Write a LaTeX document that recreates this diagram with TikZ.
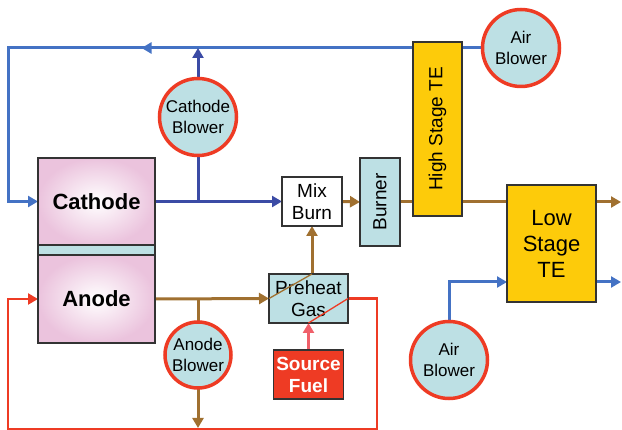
\documentclass[tikz,border=0pt]{standalone}
\usepackage{fontspec}
\setmainfont{Liberation Sans}
\usetikzlibrary{arrows.meta,decorations.markings,calc}
\definecolor{tealf}{HTML}{BDE0E4}
\definecolor{redc}{HTML}{EE3B24}
\definecolor{fuelc}{HTML}{EE3B24}
\definecolor{fuelarrow}{HTML}{F0606A}
\definecolor{yellowc}{HTML}{FDCB0A}
\definecolor{brownc}{HTML}{A07030}
\definecolor{bluel}{HTML}{4472C4}
\definecolor{blued}{HTML}{3B4BA5}
\definecolor{pinkc}{HTML}{EBC3DD}
\definecolor{boxc}{HTML}{333333}
\pgfdeclarelayer{bg}
\pgfsetlayers{bg,main}
\begin{document}
\begin{tikzpicture}[x=1pt,y=-1pt,
  box/.style={draw=boxc, line width=1.3pt, inner sep=0pt, outer sep=0pt, align=center, font=\fontsize{19}{22}\selectfont},
  blower/.style={circle, draw=redc, line width=3.5pt, fill=tealf, inner sep=0pt, outer sep=0pt, align=center, font=\fontsize{17}{21}\selectfont},
  tip/.style={-{Triangle[length=10pt,width=11pt]}},
  flow/.style={line width=3pt, tip},
  plain/.style={line width=3pt}
]
\useasboundingbox (0,0) rectangle (622,430);

% nodes
\node[box, fill=tealf, minimum width=117pt, minimum height=10pt] (strip) at (96.5,250) {};
\node[box, shading=radial, inner color=white, outer color=pinkc, minimum width=117pt, minimum height=87pt, font=\fontsize{22}{26}\selectfont\bfseries] (cath) at (96.5,201.5) {Cathode};
\node[box, shading=radial, inner color=white, outer color=pinkc, minimum width=117pt, minimum height=88pt, font=\fontsize{22}{26}\selectfont\bfseries] (anode) at (96.5,299) {Anode};

\node[blower, minimum size=77pt] (cb) at (198,117) {Cathode\\Blower};
\node[blower, minimum size=66pt] (ab) at (198,355) {Anode\\Blower};
\node[blower, minimum size=77pt] (air1) at (521,48) {Air\\Blower};
\node[blower, minimum size=77pt] (air2) at (449,360) {Air\\Blower};

\node[box, fill=white, minimum width=60pt, minimum height=49pt] (mix) at (312,201.5) {Mix\\Burn};
\node[box, fill=tealf, minimum width=40pt, minimum height=88pt] (burner) at (380,202) {\rotatebox{90}{Burner}};
\node[box, fill=yellowc, minimum width=49pt, minimum height=174pt] (hste) at (437.5,129) {\rotatebox{90}{High Stage TE}};
\node[box, fill=yellowc, minimum width=89pt, minimum height=117pt, font=\fontsize{22}{26}\selectfont] (lste) at (551.5,243.5) {Low\\Stage\\TE};
\node[box, fill=tealf, minimum width=79pt, minimum height=49pt] (pre) at (308.5,298.5) {Preheat\\Gas};
\node[box, fill=fuelc, text=white, minimum width=70pt, minimum height=49pt, font=\fontsize{19}{22}\selectfont\bfseries] (fuel) at (308.5,374.5) {Source\\Fuel};

% free ends
\coordinate (tl) at (8,48);
\coordinate (bl) at (8,429);
\coordinate (rloop) at (377,429);
\coordinate (abot) at (198,428);
\coordinate (out1) at (621,202);
\coordinate (out2) at (621,282);

\begin{pgfonlayer}{bg}
% blue air loop
\draw[bluel, flow, postaction={decorate}, decoration={markings, mark=at position 341pt with {\arrow{Triangle[length=10pt,width=11pt]}}}]
  (air1.west) -- (tl) |- (cath.west);
\draw[blued, flow] (cb.north) -- (cb.north |- tl);
\draw[blued, plain] (cath.east -| cb.south) -- (cb.south);
\draw[blued, flow] (cath.east) -- (mix.west);
% brown
\draw[brownc, flow] (anode.east) -- (pre.west);
\draw[brownc, flow] (mix.south |- pre.north) -- (mix.south);
\draw[brownc, flow] (mix.east) -- (burner.west);
\draw[brownc, flow] (burner.east) -- (out1);
\draw[brownc, plain] (anode.east -| ab.north) -- (ab.north);
\draw[brownc, flow] (ab.south) -- (abot);
% red
\draw[fuelarrow, flow] (fuel.north) -- (pre.south);
\draw[redc, line width=2.3pt, tip] (pre.east) -| (rloop) -- (bl) |- (anode.west);
% blue low stage
\draw[bluel, flow] (air2.north) |- ([yshift=-38.5pt]lste.west);
\draw[bluel, flow] ([yshift=-38.5pt]lste.east) -- (out2);
\end{pgfonlayer}

% diagonals inside preheat
\draw[brownc, line width=1.3pt] (pre.west) -- (mix.south |- pre.north);
\draw[redc, line width=1.3pt] (pre.south) -- (pre.east);
\end{tikzpicture}
\end{document}
